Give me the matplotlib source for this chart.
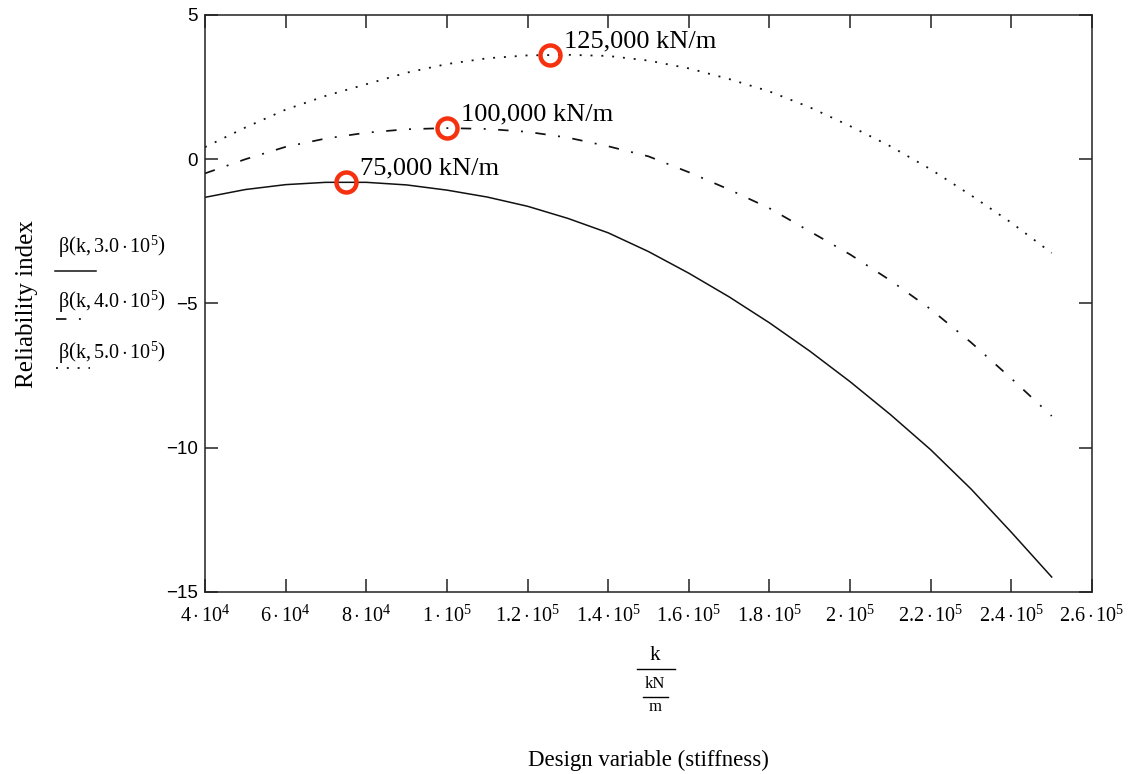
import matplotlib
matplotlib.use('Agg')
import matplotlib.pyplot as plt
from matplotlib.lines import Line2D

# ---------------- data ----------------
stiffness = [4e4, 5e4, 6e4, 7e4, 8e4, 9e4, 1.0e5, 1.1e5, 1.2e5, 1.3e5, 1.4e5,
             1.5e5, 1.6e5, 1.7e5, 1.8e5, 1.9e5, 2.0e5, 2.1e5, 2.2e5, 2.3e5,
             2.4e5, 2.5e5]
beta_300k = [-1.32, -1.05, -0.88, -0.80, -0.80, -0.89, -1.07, -1.31, -1.63,
             -2.05, -2.55, -3.20, -3.95, -4.77, -5.67, -6.65, -7.71, -8.85,
             -10.07, -11.43, -12.93, -14.48]
beta_400k = [-0.49, 0.00, 0.43, 0.72, 0.92, 1.04, 1.08, 1.05, 0.95, 0.75, 0.45,
             0.10, -0.45, -1.05, -1.70, -2.50, -3.30, -4.20, -5.20, -6.35,
             -7.60, -8.90]
beta_500k = [0.42, 1.10, 1.72, 2.20, 2.60, 3.00, 3.30, 3.50, 3.60, 3.62, 3.58,
             3.42, 3.15, 2.78, 2.35, 1.80, 1.15, 0.45, -0.35, -1.25, -2.20,
             -3.25]

optima_k = [7.5e4, 1.0e5, 1.255e5]
optima_beta = [-0.78, 1.10, 3.61]
optima_labels = ['75,000 kN/m', '100,000 kN/m', '125,000 kN/m']

x_ticks = [4e4, 6e4, 8e4, 1.0e5, 1.2e5, 1.4e5, 1.6e5, 1.8e5, 2.0e5, 2.2e5,
           2.4e5, 2.6e5]
x_tick_labels = [r'$4\cdot10^{4}$', r'$6\cdot10^{4}$', r'$8\cdot10^{4}$',
                 r'$1\cdot10^{5}$', r'$1.2\cdot10^{5}$', r'$1.4\cdot10^{5}$',
                 r'$1.6\cdot10^{5}$', r'$1.8\cdot10^{5}$', r'$2\cdot10^{5}$',
                 r'$2.2\cdot10^{5}$', r'$2.4\cdot10^{5}$', r'$2.6\cdot10^{5}$']
y_ticks = [5, 0, -5, -10, -15]
y_tick_labels = ['5', '0', '\u22125', '\u221210', '\u221215']

legend_labels = [r'$\mathrm{\beta}\left(\mathrm{k},3.0\cdot10^{5}\right)$',
                 r'$\mathrm{\beta}\left(\mathrm{k},4.0\cdot10^{5}\right)$',
                 r'$\mathrm{\beta}\left(\mathrm{k},5.0\cdot10^{5}\right)$']

# ---------------- styling ----------------
plt.rcParams['lines.scale_dashes'] = False
plt.rcParams['mathtext.fontset'] = 'custom'
plt.rcParams['mathtext.rm'] = 'Liberation Serif'
plt.rcParams['mathtext.it'] = 'Liberation Serif:italic'
plt.rcParams['mathtext.bf'] = 'Liberation Serif:bold'

W, H = 1135, 774
fig = plt.figure(figsize=(W / 100, H / 100), dpi=100)
ax = fig.add_axes([205 / W, 1 - 592 / H, (1092 - 205) / W, (592 - 15) / H])

solid_style = '-'
dashdot_style = (0, (7.5, 9.0, 1.4, 9.0))
dot_style = (0, (1.4, 6.4))

ax.plot(stiffness, beta_300k, color='#111111', lw=1.1, ls=solid_style)
ax.plot(stiffness, beta_400k, color='#111111', lw=1.25, ls=dashdot_style)
ax.plot(stiffness, beta_500k, color='#111111', lw=1.3, ls=dot_style)

ax.plot(optima_k, optima_beta, ls='none', marker='o', ms=14.4, mfc='none',
        mec='#f5310f', mew=3.2, zorder=5)
for k, b, lab in zip(optima_k, optima_beta, optima_labels):
    ax.annotate(lab, xy=(k, b), xytext=(10, 9.5), textcoords='offset points',
                ha='left', va='center', fontsize=19, family='Liberation Serif',
                color='black')

ax.set_xlim(4e4, 2.6e5)
ax.set_ylim(-15, 5)
ax.set_xticks(x_ticks)
ax.set_xticklabels(x_tick_labels, fontsize=14.5)
ax.set_yticks(y_ticks)
ax.set_yticklabels(y_tick_labels, fontsize=13.5, family='Liberation Sans')
ax.tick_params(axis='both', direction='in', length=9.4, width=1.1,
               color='#222222', top=True, right=True)
ax.tick_params(axis='x', pad=9)
ax.tick_params(axis='y', pad=5)
for s in ax.spines.values():
    s.set_linewidth(1.1)
    s.set_color('#222222')

# y axis label and stacked legend labels
fig.text(27 / W, 1 - 304 / H, 'Reliability index', rotation=90,
         ha='center', va='center', fontsize=18, family='Liberation Serif')

leg_text_y = [247, 302, 353]
leg_line_y = [271, 319, 368]
leg_styles = [(solid_style, 55, 96, 1.1), (dashdot_style, 56, 84, 1.25),
              (dot_style, 56, 90, 1.3)]
for lab, ty, ly, (st, x0, x1, lw) in zip(legend_labels, leg_text_y,
                                          leg_line_y, leg_styles):
    fig.text(58 / W, 1 - ty / H, lab, ha='left', va='center', fontsize=14.5)
    fig.add_artist(Line2D([x0 / W, x1 / W], [1 - ly / H, 1 - ly / H],
                          transform=fig.transFigure, color='#111111',
                          lw=lw, ls=st))

# x axis unit fraction and label
fig.text(655 / W, 1 - 655 / H, 'k', ha='center', va='center', fontsize=15,
         family='Liberation Serif')
fig.add_artist(Line2D([637 / W, 675 / W], [1 - 669 / H, 1 - 669 / H],
                      transform=fig.transFigure, color='black', lw=1.0))
fig.text(655 / W, 1 - 684 / H, 'kN', ha='center', va='center', fontsize=12,
         family='Liberation Serif')
fig.add_artist(Line2D([643 / W, 668 / W], [1 - 697 / H, 1 - 697 / H],
                      transform=fig.transFigure, color='black', lw=1.0))
fig.text(655 / W, 1 - 707 / H, 'm', ha='center', va='center', fontsize=12,
         family='Liberation Serif')
fig.text(648 / W, 1 - 760 / H, 'Design variable (stiffness)', ha='center',
         va='center', fontsize=16.5, family='Liberation Serif')

fig.savefig('out.png', dpi=100)
